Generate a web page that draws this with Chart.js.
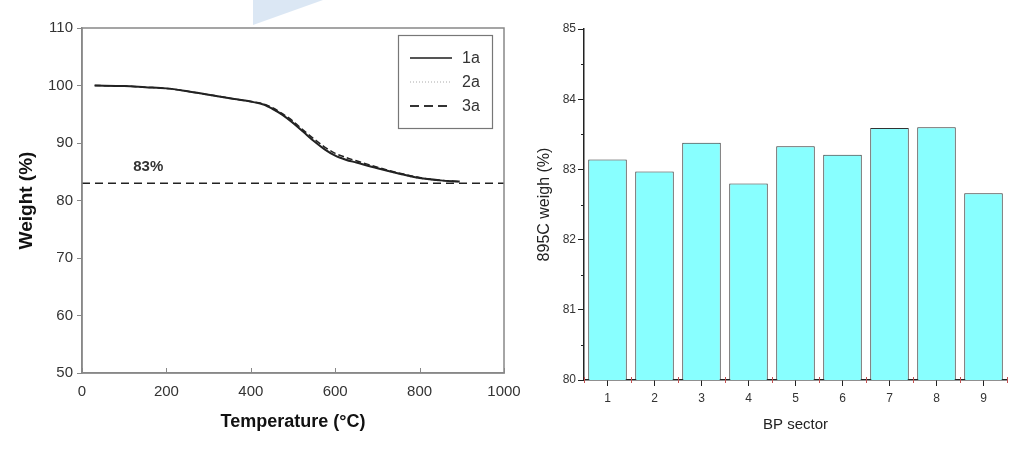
<!DOCTYPE html>
<html lang="en">
<head>
  <meta charset="UTF-8">
  <title>TGA curves and 895C weight by BP sector</title>
  <script src="https://cdn.jsdelivr.net/npm/chart.js"></script>
  <style>
    html, body {
      margin: 0;
      padding: 0;
      background: #fff;
      font-family: 'Liberation Sans', Arial, sans-serif;
    }
    .wrap {
      position: relative;
      width: 1036px;
      height: 450px;
      overflow: hidden;
    }
    .mark {
      position: absolute;
      left: 253px;
      top: 0;
      width: 70px;
      height: 25px;
      background: #dbe7f4;
      clip-path: polygon(0 0, 100% 0, 0 100%);
    }
    #tgaBox { position: absolute; left: 0; top: 0; width: 520px; height: 450px; }
    #barBox { position: absolute; left: 520px; top: 0; width: 516px; height: 450px; }
  </style>
</head>
<body>
  <div class="wrap">
    <div id="tgaBox"><canvas id="tgaChart" width="520" height="450"></canvas></div>
    <div id="barBox"><canvas id="barChart" width="516" height="450"></canvas></div>
    <div class="mark"></div>
  </div>
  <script>
    // TGA curves (left)
    const temps = [30, 100, 150, 200, 250, 300, 350, 400, 430, 450, 475, 500, 525, 550, 575, 600, 625, 650, 700, 750, 800, 850, 895];
    const w1a = [100.0, 99.9, 99.7, 99.5, 99.0, 98.4, 97.8, 97.2, 96.7, 96.0, 94.9, 93.5, 91.9, 90.3, 88.9, 87.8, 87.1, 86.6, 85.6, 84.7, 83.9, 83.5, 83.3];
    const w2a = [100.0, 99.9, 99.7, 99.4, 98.9, 98.3, 97.7, 97.1, 96.6, 95.9, 94.8, 93.4, 91.8, 90.3, 89.0, 87.9, 87.2, 86.7, 85.6, 84.6, 83.8, 83.4, 83.2];
    const w3a = [100.0, 99.9, 99.7, 99.5, 99.0, 98.4, 97.8, 97.2, 96.8, 96.2, 95.1, 93.8, 92.2, 90.7, 89.3, 88.2, 87.5, 86.9, 85.8, 84.8, 84.0, 83.5, 83.3];
    const refLevel = 83;
    const refLabel = '83%';

    // 895C residue by sector (right)
    const sectors = ['1', '2', '3', '4', '5', '6', '7', '8', '9'];
    const residue = [83.14, 82.97, 83.38, 82.80, 83.33, 83.21, 83.59, 83.60, 82.66];

    const FONT = "'Liberation Sans', Arial, sans-serif";
    Chart.defaults.font.family = FONT;
    Chart.defaults.color = '#333';

    const toXY = ys => temps.map((t, i) => ({ x: t, y: ys[i] }));

    const series = [
      { label: '1a', data: toXY(w1a), color: '#222', width: 2, dash: [], legendColor: '#555' },
      { label: '2a', data: toXY(w2a), color: '#aaa', width: 1, dash: [1, 2], legendColor: '#aaa' },
      { label: '3a', data: toXY(w3a), color: '#222', width: 1.5, dash: [6, 3], legendColor: '#333' }
    ];

    const tgaExtras = {
      id: 'tgaExtras',
      afterDatasetsDraw(chart) {
        const { ctx, chartArea: a, scales: { x, y } } = chart;
        ctx.save();
        // frame
        ctx.strokeStyle = '#888';
        ctx.lineWidth = 1.5;
        ctx.strokeRect(a.left, a.top, a.right - a.left, a.bottom - a.top);
        // inward x ticks
        ctx.lineWidth = 1;
        x.ticks.forEach(t => {
          const px = Math.round(x.getPixelForValue(t.value)) + 0.5;
          ctx.beginPath();
          ctx.moveTo(px, a.bottom);
          ctx.lineTo(px, a.bottom - 5);
          ctx.stroke();
        });
        // 83% label
        ctx.fillStyle = '#333';
        ctx.font = 'bold 15px ' + FONT;
        ctx.textAlign = 'center';
        ctx.textBaseline = 'middle';
        ctx.fillText(refLabel, x.getPixelForValue(157), y.getPixelForValue(85.8));
        // legend box
        const lx = 398, ly = 35, lw = 94, lh = 93;
        ctx.fillStyle = '#fff';
        ctx.fillRect(lx, ly, lw, lh);
        ctx.strokeStyle = '#777';
        ctx.lineWidth = 1.2;
        ctx.strokeRect(lx + 0.5, ly + 0.5, lw, lh);
        ctx.font = '16px ' + FONT;
        ctx.textAlign = 'left';
        series.forEach((s, i) => {
          const ry = 58 + i * 24;
          ctx.beginPath();
          ctx.strokeStyle = s.legendColor;
          ctx.lineWidth = s.width === 1 ? 1 : 2;
          ctx.setLineDash(i === 2 ? [9, 5] : s.dash);
          ctx.moveTo(410, ry);
          ctx.lineTo(452, ry);
          ctx.stroke();
          ctx.setLineDash([]);
          ctx.fillStyle = '#333';
          ctx.fillText(s.label, 462, ry + 1);
        });
        ctx.restore();
      }
    };

    new Chart(document.getElementById('tgaChart'), {
      type: 'line',
      data: {
        datasets: [
          {
            label: 'ref',
            data: [{ x: 0, y: refLevel }, { x: 1000, y: refLevel }],
            borderColor: '#222',
            borderWidth: 1.5,
            borderDash: [8, 5],
            pointRadius: 0
          },
          ...series.map(s => ({
            label: s.label,
            data: s.data,
            borderColor: s.color,
            borderWidth: s.width,
            borderDash: s.dash,
            pointRadius: 0,
            cubicInterpolationMode: 'monotone'
          }))
        ]
      },
      options: {
        responsive: false,
        animation: false,
        maintainAspectRatio: false,
        layout: { padding: { top: 28, right: 0, left: 0, bottom: 0 } },
        plugins: { legend: { display: false }, tooltip: { enabled: false } },
        scales: {
          x: {
            type: 'linear',
            min: 0,
            max: 1000,
            afterFit: s => { s.height = 77; s.paddingRight = 16; s.paddingLeft = 0; },
            ticks: { stepSize: 200, padding: 10, maxRotation: 0, font: { size: 15 }, color: '#333', callback: v => String(v) },
            grid: { drawOnChartArea: false, drawTicks: false },
            border: { color: '#888', width: 1.5 },
            title: {
              display: true,
              text: 'Temperature (°C)',
              font: { size: 18, weight: 'bold' },
              color: '#111',
              padding: { top: 0, bottom: 17 }
            }
          },
          y: {
            min: 50,
            max: 110,
            afterFit: s => { s.width = 82; },
            ticks: { stepSize: 10, padding: 4, font: { size: 15 }, color: '#333' },
            grid: { drawOnChartArea: false, tickLength: 5, color: '#888' },
            border: { color: '#888', width: 1.5 },
            title: {
              display: true,
              text: 'Weight (%)',
              font: { size: 19, weight: 'bold' },
              color: '#111',
              padding: { top: 15, bottom: 0 }
            }
          }
        }
      },
      plugins: [tgaExtras]
    });

    const barExtras = {
      id: 'barExtras',
      afterDraw(chart) {
        const { ctx, chartArea: a, scales: { x, y } } = chart;
        ctx.save();
        // minor y ticks at half steps
        ctx.strokeStyle = '#222';
        ctx.lineWidth = 1;
        for (let v = 80.5; v < 85; v += 1) {
          const py = Math.round(y.getPixelForValue(v)) + 0.5;
          ctx.beginPath();
          ctx.moveTo(a.left, py);
          ctx.lineTo(a.left - 3, py);
          ctx.stroke();
        }
        // small red ticks at category boundaries
        ctx.strokeStyle = '#c05050';
        for (let i = 0; i <= sectors.length; i++) {
          const px = Math.round(x.getPixelForValue(i - 0.5)) + 0.5;
          ctx.beginPath();
          ctx.moveTo(px, a.bottom - 3);
          ctx.lineTo(px, a.bottom + 3);
          ctx.stroke();
        }
        ctx.restore();
      }
    };

    new Chart(document.getElementById('barChart'), {
      type: 'bar',
      data: {
        labels: sectors,
        datasets: [{
          label: '895C weigh',
          data: residue,
          backgroundColor: '#88ffff',
          borderColor: '#333',
          borderWidth: 1,
          borderSkipped: 'bottom',
          barPercentage: 0.82,
          categoryPercentage: 1
        }]
      },
      options: {
        responsive: false,
        animation: false,
        maintainAspectRatio: false,
        layout: { padding: { top: 29, right: 29, left: 0, bottom: 0 } },
        plugins: { legend: { display: false }, tooltip: { enabled: false } },
        scales: {
          x: {
            afterFit: s => { s.height = 70; },
            ticks: { padding: 5, font: { size: 12 }, color: '#333', maxRotation: 0 },
            grid: { offset: false, drawOnChartArea: false, tickLength: 6, color: '#222' },
            border: { color: '#222', width: 1.5 },
            title: {
              display: true,
              text: 'BP sector',
              font: { size: 15 },
              color: '#222',
              padding: { top: 0, bottom: 16 }
            }
          },
          y: {
            min: 80,
            max: 85,
            afterFit: s => { s.width = 64; },
            ticks: { stepSize: 1, padding: 2, font: { size: 12 }, color: '#333' },
            grid: { drawOnChartArea: false, tickLength: 6, color: '#222' },
            border: { color: '#222', width: 1.5 },
            title: {
              display: true,
              text: '895C weigh (%)',
              font: { size: 16 },
              color: '#222',
              padding: { top: 15, bottom: 0 }
            }
          }
        }
      },
      plugins: [barExtras]
    });
  </script>
</body>
</html>
